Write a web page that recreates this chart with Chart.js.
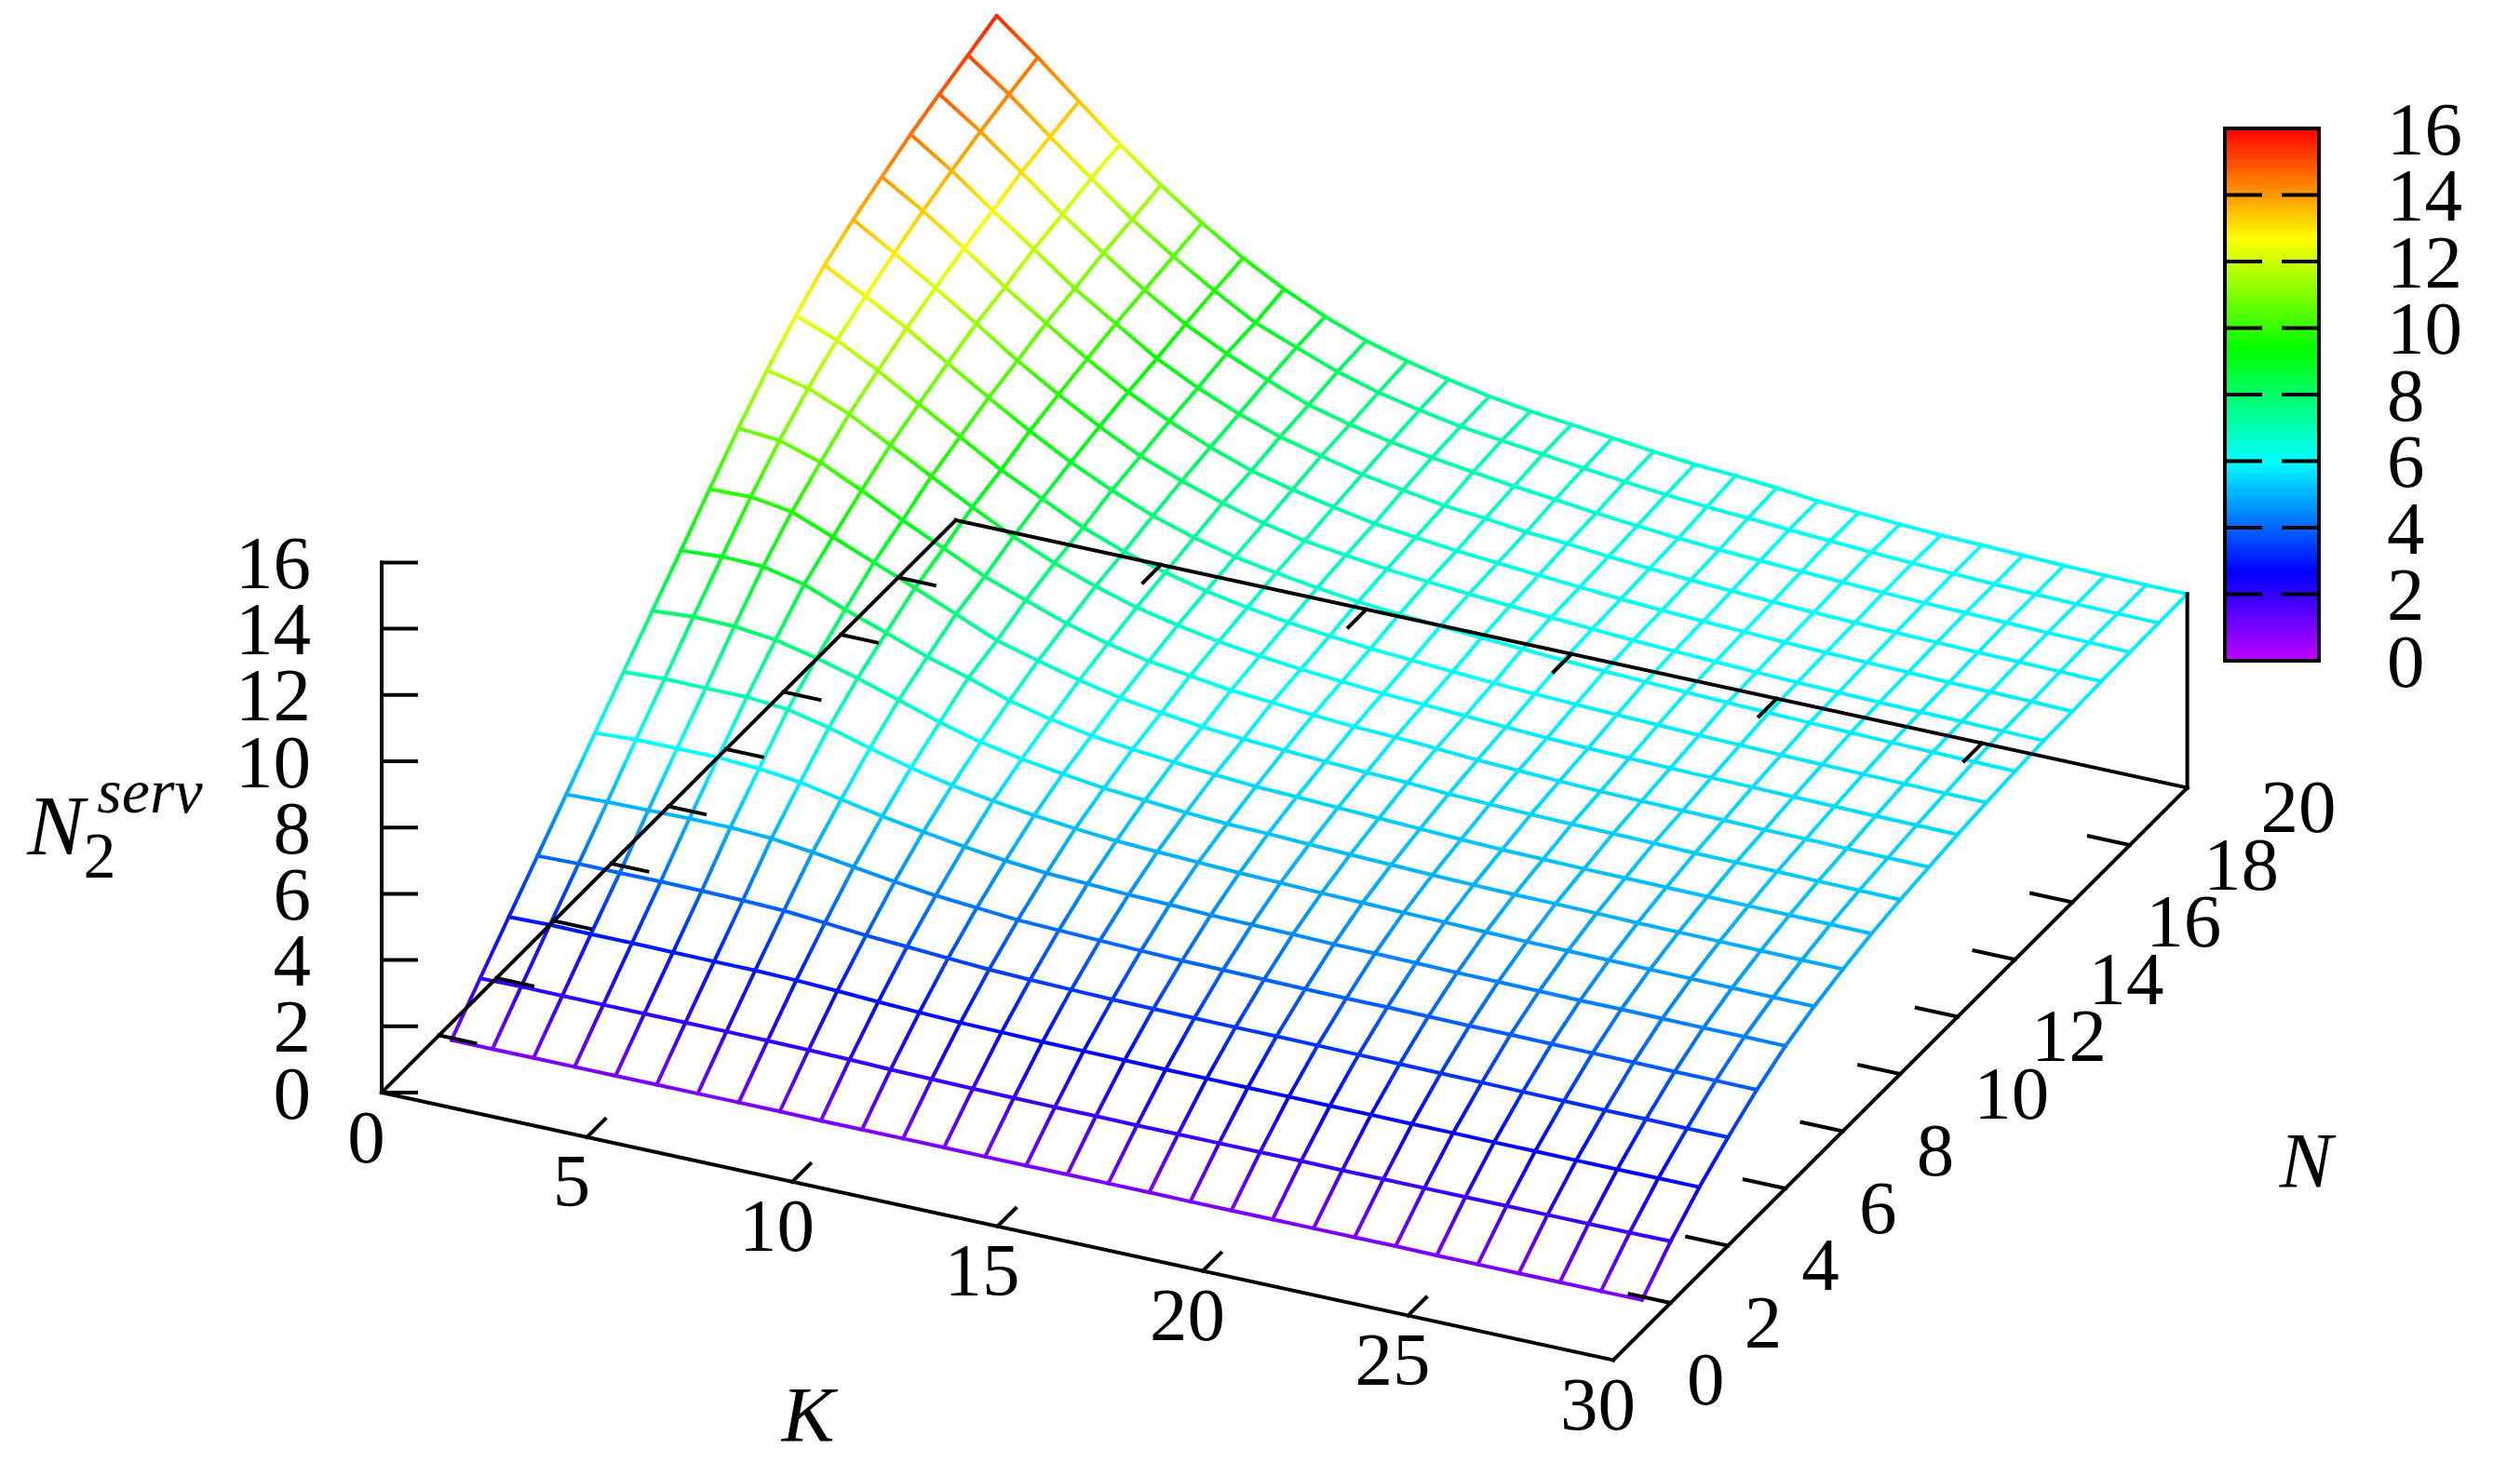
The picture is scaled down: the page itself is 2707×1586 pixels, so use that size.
<!DOCTYPE html>
<html><head><meta charset="utf-8">
<style>html,body{margin:0;padding:0;background:#fff}canvas{display:block}</style>
<script src="https://cdn.jsdelivr.net/npm/chart.js@4"></script>
</head><body>
<canvas id="c" width="2707" height="1586"></canvas>
<script>
// ---------- data ----------
const kValues=[1,2,3,4,5,6,7,8,9,10,11,12,13,14,15,16,17,18,19,20,21,22,23,24,25,26,27,28,29,30];
const nValues=[1,2,3,4,5,6,7,8,9,10,11,12,13,14,15,16,17,18,19,20];
const zN01=[.99,.99,.99,.99,.99,.99,.99,.99,.99,.98,.98,.98,.98,.97,.97,.97,.97,.97,.96,.96,.96,.96,.96,.96,.95,.95,.95,.95,.95,.95];
const zN02=[1.99,2.01,2.0,2.0,2.0,2.0,2.0,1.99,1.98,1.96,1.93,1.91,1.89,1.88,1.87,1.87,1.86,1.86,1.86,1.86,1.86,1.85,1.85,1.85,1.85,1.85,1.85,1.85,1.85,1.86];
const zN03=[2.98,3.01,3.0,3.0,2.99,2.98,2.98,2.95,2.90,2.84,2.79,2.75,2.73,2.71,2.70,2.69,2.68,2.68,2.67,2.67,2.66,2.66,2.65,2.65,2.64,2.64,2.63,2.63,2.63,2.63];
const zN04=[3.96,3.99,3.98,3.99,3.98,3.96,3.92,3.82,3.71,3.64,3.56,3.49,3.45,3.42,3.39,3.38,3.37,3.36,3.36,3.35,3.34,3.33,3.32,3.31,3.30,3.29,3.28,3.28,3.27,3.27];
const zN05=[4.95,4.99,5.01,5.03,5.03,4.97,4.82,4.64,4.47,4.32,4.22,4.12,4.08,4.04,4.00,3.97,3.96,3.94,3.92,3.91,3.91,3.90,3.89,3.89,3.88,3.87,3.86,3.85,3.85,3.84];
const zN06=[5.94,6.01,6.01,6.01,5.94,5.80,5.55,5.31,5.11,4.93,4.78,4.67,4.62,4.56,4.53,4.48,4.46,4.44,4.41,4.40,4.38,4.36,4.35,4.34,4.33,4.33,4.32,4.31,4.31,4.30];
const zN07=[6.92,6.98,6.97,6.97,6.86,6.58,6.23,5.91,5.65,5.45,5.28,5.15,5.05,4.99,4.94,4.89,4.86,4.82,4.80,4.77,4.75,4.72,4.70,4.69,4.68,4.67,4.66,4.65,4.64,4.63];
const zN08=[7.90,7.99,7.97,7.83,7.55,7.21,6.82,6.42,6.09,5.85,5.67,5.51,5.41,5.31,5.24,5.21,5.16,5.12,5.08,5.04,5.01,4.99,4.98,4.96,4.94,4.93,4.92,4.91,4.90,4.89];
const zN09=[8.86,8.94,8.91,8.64,8.15,7.72,7.26,6.90,6.48,6.19,5.96,5.82,5.70,5.59,5.50,5.46,5.40,5.35,5.30,5.25,5.21,5.19,5.17,5.16,5.15,5.14,5.13,5.12,5.11,5.10];
const zN10=[9.85,9.88,9.70,9.21,8.71,8.21,7.69,7.16,6.82,6.50,6.24,6.06,5.90,5.80,5.73,5.66,5.60,5.56,5.49,5.45,5.41,5.39,5.37,5.35,5.32,5.31,5.30,5.28,5.27,5.26];
const zN11=[10.82,10.72,10.33,9.75,9.12,8.54,7.96,7.51,7.08,6.74,6.48,6.31,6.14,6.04,5.93,5.85,5.80,5.73,5.65,5.60,5.55,5.51,5.49,5.47,5.45,5.43,5.42,5.40,5.39,5.38];
const zN12=[11.71,11.43,10.92,10.25,9.58,8.92,8.30,7.77,7.34,6.97,6.70,6.48,6.31,6.18,6.08,5.99,5.92,5.85,5.78,5.72,5.68,5.65,5.62,5.60,5.58,5.56,5.54,5.52,5.51,5.50];
const zN13=[12.49,12.02,11.37,10.63,9.91,9.18,8.58,7.98,7.52,7.16,6.87,6.64,6.46,6.32,6.21,6.13,6.05,5.98,5.92,5.87,5.83,5.79,5.75,5.72,5.69,5.67,5.65,5.63,5.61,5.60];
const zN14=[13.15,12.48,11.78,11.0,10.23,9.49,8.82,8.24,7.74,7.35,7.04,6.82,6.64,6.49,6.38,6.29,6.21,6.14,6.07,6.01,5.96,5.91,5.87,5.83,5.80,5.77,5.74,5.72,5.70,5.68];
const zN15=[13.66,12.92,12.14,11.33,10.48,9.73,9.03,8.41,7.93,7.53,7.19,6.93,6.76,6.61,6.50,6.40,6.31,6.23,6.15,6.08,6.02,5.97,5.92,5.88,5.85,5.82,5.80,5.78,5.76,5.74];
const zN16=[14.09,13.33,12.47,11.57,10.75,9.94,9.21,8.60,8.08,7.64,7.34,7.08,6.85,6.71,6.57,6.47,6.37,6.28,6.19,6.12,6.06,6.01,5.96,5.92,5.89,5.86,5.83,5.81,5.79,5.76];
const zN17=[14.51,13.68,12.75,11.85,10.93,10.14,9.36,8.74,8.22,7.80,7.49,7.20,7.00,6.80,6.68,6.54,6.46,6.34,6.25,6.17,6.11,6.05,6.00,5.96,5.93,5.90,5.87,5.85,5.83,5.80];
const zN18=[14.86,14.00,13.04,12.04,11.14,10.29,9.53,8.91,8.38,7.90,7.58,7.32,7.12,6.95,6.79,6.66,6.52,6.40,6.30,6.22,6.16,6.10,6.05,6.00,5.96,5.93,5.90,5.87,5.85,5.82];
const zN19=[15.17,14.26,13.25,12.26,11.29,10.44,9.68,8.98,8.50,8.04,7.68,7.42,7.19,7.04,6.89,6.74,6.60,6.48,6.38,6.31,6.23,6.16,6.09,6.03,5.98,5.93,5.90,5.87,5.85,5.84];
const zN20=[15.50,14.51,13.45,12.42,11.46,10.59,9.80,9.13,8.57,8.11,7.76,7.48,7.24,7.06,6.93,6.79,6.65,6.53,6.46,6.36,6.23,6.15,6.07,6.01,5.98,5.94,5.90,5.87,5.85,5.85];
const zRows=[zN01,zN02,zN03,zN04,zN05,zN06,zN07,zN08,zN09,zN10,zN11,zN12,zN13,zN14,zN15,zN16,zN17,zN18,zN19,zN20];
const kTicks=[0,5,10,15,20,25,30];
const nTicks=[0,2,4,6,8,10,12,14,16,18,20];
const zTicks=[0,2,4,6,8,10,12,14,16];
const colorStops=[[0,'#c000ff'],[2.67,'#0000ff'],[6,'#00ffff'],[9.33,'#00ff00'],[12.67,'#ffff00'],[16,'#ff0000']];

// ---------- oblique projection of the 3-D box ----------
const P={ox:410,oy:1174,kx:44.1,ky:9.583,nx:30.83,ny:-30.75,zy:-35.6};
const proj=(k,n,z)=>({x:P.ox+P.kx*k+P.nx*n,y:P.oy+P.ky*k+P.ny*n+P.zy*z,z:z});

function hexToRgb(h){return [1,3,5].map(i=>parseInt(h.substr(i,2),16));}
function zColor(z){
  for(let i=1;i<colorStops.length;i++){
    if(z<=colorStops[i][0]){
      const [a,ca]=colorStops[i-1],[b,cb]=colorStops[i];
      const t=Math.max(0,(z-a)/(b-a));
      const A=hexToRgb(ca),B=hexToRgb(cb);
      return 'rgb('+A.map((v,j)=>Math.round(v+(B[j]-v)*t)).join(',')+')';
    }
  }
  return colorStops[colorStops.length-1][1];
}

const canvas=document.getElementById('c');
const g=canvas.getContext('2d');
const segColor=c=>{
  const d=c.chart.data.datasets[c.datasetIndex].data;
  const a=d[c.p0DataIndex],b=d[c.p1DataIndex];
  const gr=g.createLinearGradient(c.p0.x,c.p0.y,c.p1.x,c.p1.y);
  gr.addColorStop(0,zColor(a.z));gr.addColorStop(1,zColor(b.z));
  return gr;
};
const datasets=[];
const meshLine=pts=>datasets.push({data:pts,order:1,borderWidth:4,borderColor:'#000',pointRadius:0,showLine:true,tension:0,segment:{borderColor:segColor},borderJoinStyle:'round',borderCapStyle:'round'});
const blackLine=(a,b,w)=>datasets.push({data:[a,b],order:0,borderWidth:w||4,borderColor:'#000',pointRadius:0,showLine:true,tension:0,borderCapStyle:'square'});

// surface mesh
nValues.forEach((n,i)=>meshLine(kValues.map((k,j)=>proj(k,n,zRows[i][j]))));
kValues.forEach((k,j)=>meshLine(nValues.map((n,i)=>proj(k,n,zRows[i][j]))));

// box axes
const K0=kTicks[0],K1=kTicks[kTicks.length-1],N0=nTicks[0],N1=nTicks[nTicks.length-1],Z1=zTicks[zTicks.length-1];
blackLine(proj(K0,N0,0),proj(K1,N0,0));
blackLine(proj(K1,N0,0),proj(K1,N1,0));
blackLine(proj(K0,N0,0),proj(K0,N1,0));
blackLine(proj(K0,N1,0),proj(K1,N1,0));
blackLine(proj(K0,N0,0),proj(K0,N0,Z1));
blackLine(proj(K1,N1,0),proj(K1,N1,zN20[zN20.length-1]));
// ticks
kTicks.slice(1,-1).forEach(k=>{
  blackLine(proj(k,N0,0),proj(k,N0+0.63,0));
  blackLine(proj(k,N1,0),proj(k,N1-0.62,0));
});
nTicks.slice(1,-1).forEach(n=>{
  blackLine(proj(K0,n,0),proj(K0+0.88,n,0));
  blackLine(proj(K1,n,0),proj(K1-1,n,0));
});
zTicks.forEach(z=>{
  const p=proj(K0,N0,z);
  blackLine(p,{x:p.x+37,y:p.y});
});
// colour bar frame and ticks
const BAR={l:2390,r:2491,b:710,perZ:35.75};
const barY=z=>BAR.b-BAR.perZ*z;
const barTop=barY(Z1);
blackLine({x:BAR.l,y:barTop},{x:BAR.r,y:barTop},4);
blackLine({x:BAR.r,y:barTop},{x:BAR.r,y:BAR.b},4);
blackLine({x:BAR.r,y:BAR.b},{x:BAR.l,y:BAR.b},4);
blackLine({x:BAR.l,y:BAR.b},{x:BAR.l,y:barTop},4);
zTicks.slice(1,-1).forEach(z=>{
  blackLine({x:BAR.l,y:barY(z)},{x:BAR.l+38,y:barY(z)});
  blackLine({x:BAR.r,y:barY(z)},{x:BAR.r-38,y:barY(z)});
});

const SERIF='"Liberation Serif"';
const DIGIT=27.5;
const paintPlugin={
  id:'paint',
  beforeDatasetsDraw(chart){
    const c=chart.ctx,sx=chart.scales.x,sy=chart.scales.y;
    const y0=sy.getPixelForValue(barY(0)),y1=sy.getPixelForValue(barY(Z1));
    const gr=c.createLinearGradient(0,y0,0,y1);
    colorStops.forEach(([z,col])=>gr.addColorStop(z/Z1,col));
    c.save();c.fillStyle=gr;
    c.fillRect(sx.getPixelForValue(BAR.l),y1,sx.getPixelForValue(BAR.r)-sx.getPixelForValue(BAR.l),y0-y1);
    c.restore();
  },
  afterDraw(chart){
    const c=chart.ctx,sx=chart.scales.x,sy=chart.scales.y;
    const put=(t,x,y,align,font)=>{c.font=font;c.textAlign=align;c.textBaseline='alphabetic';c.fillText(t,sx.getPixelForValue(x),sy.getPixelForValue(y));};
    c.save();c.fillStyle='#000';
    const num='81px '+SERIF;
    kTicks.forEach(k=>{const p=proj(k,N0,0);put(String(k),p.x-16.5,p.y+47+DIGIT,'center',num);});
    nTicks.forEach(n=>{const p=proj(K1,n,0);put(String(n),p.x+79,p.y+20.5+DIGIT,'left',num);});
    zTicks.forEach(z=>{const p=proj(K0,N0,z);put(String(z),334,p.y+DIGIT,'right',num);});
    zTicks.forEach(z=>put(String(z),2564,barY(z)+DIGIT,'left',num));
    const it='italic 85px '+SERIF;
    put('K',868,1549,'center',it);
    put('N',2477,1276,'center',it);
    put('N',60,918,'center','italic 92px '+SERIF);
    put('2',107,943,'center','70px '+SERIF);
    put('serv',161,873,'center','italic 68px '+SERIF);
    c.restore();
  }
};

new Chart(g,{
  type:'scatter',
  data:{datasets},
  plugins:[paintPlugin],
  options:{
    responsive:false,animation:false,devicePixelRatio:1,
    layout:{padding:0},
    plugins:{legend:{display:false},tooltip:{enabled:false},title:{display:false}},
    events:[],
    scales:{
      x:{type:'linear',min:0,max:2707,display:false},
      y:{type:'linear',min:0,max:1586,reverse:true,display:false}
    }
  }
});
</script>
</body></html>
